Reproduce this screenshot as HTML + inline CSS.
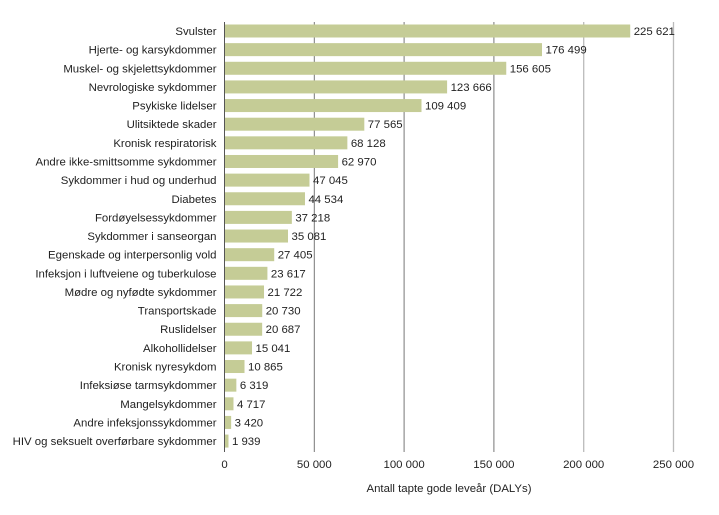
<!DOCTYPE html>
<html><head><meta charset="utf-8"><style>
body{margin:0;background:#fff;font-family:"Liberation Sans",sans-serif;}
svg text{font-family:"Liberation Sans",sans-serif;font-size:11.4px;fill:#222;}
</style></head><body>
<svg id="c" width="719" height="510"></svg>
<script>
const categories=["Svulster","Hjerte- og karsykdommer","Muskel- og skjelettsykdommer","Nevrologiske  sykdommer","Psykiske lidelser","Ulitsiktede skader","Kronisk respiratorisk","Andre ikke-smittsomme sykdommer","Sykdommer i hud og underhud","Diabetes","Fordøyelsessykdommer","Sykdommer i sanseorgan","Egenskade og interpersonlig vold","Infeksjon i luftveiene og tuberkulose","Mødre og nyfødte sykdommer","Transportskade","Ruslidelser","Alkohollidelser","Kronisk nyresykdom","Infeksiøse tarmsykdommer","Mangelsykdommer","Andre infeksjonssykdommer","HIV og seksuelt overførbare sykdommer"];
const values=[225621,176499,156605,123666,109409,77565,68128,62970,47045,44534,37218,35081,27405,23617,21722,20730,20687,15041,10865,6319,4717,3420,1939];
const valueLabels=["225 621","176 499","156 605","123 666","109 409","77 565","68 128","62 970","47 045","44 534","37 218","35 081","27 405","23 617","21 722","20 730","20 687","15 041","10 865","6 319","4 717","3 420","1 939"];
const ticks=[0,50000,100000,150000,200000,250000];
const tickLabels=["0","50 000","100 000","150 000","200 000","250 000"];
const svg=document.getElementById('c');const NS="http://www.w3.org/2000/svg";
const x0=224.5,x1=673.5,maxV=250000;
const xs=v=>x0+(x1-x0)*v/maxV;
const y0=31,step=18.64;
const ys=i=>y0+i*step;
function mk(t,a){const e=document.createElementNS(NS,t);for(const k in a)e.setAttribute(k,a[k]);svg.appendChild(e);return e;}
ticks.forEach((t,i)=>{
 if(i>0){const g=mk('line',{x1:xs(t),x2:xs(t),y1:22,y2:452,stroke:i>=4?'#bbb':'#777','stroke-width':i>=4?1.3:1});
 
 }
 const tx=mk('text',{x:xs(t),y:468,'text-anchor':'middle'});tx.textContent=tickLabels[i];
 
 
});
categories.forEach((c,i)=>{
 const y=ys(i);
 const r=mk('rect',{x:x0+0.5,y:y-6.5,width:xs(values[i])-x0,height:13,fill:'#c5cc96'});
 
 
 const l=mk('text',{x:x0-8,y:y+4,'text-anchor':'end'});l.textContent=c;
 
 
 const v=mk('text',{x:xs(values[i])+4,y:y+4});v.textContent=valueLabels[i];
 
 
});
const ax=mk('line',{x1:x0,x2:x0,y1:22,y2:452,stroke:'#555'});


const tt=mk('text',{x:xs(125000),y:492,'text-anchor':'middle'});tt.textContent="Antall tapte gode leveår (DALYs)";


</script>
</body></html>
